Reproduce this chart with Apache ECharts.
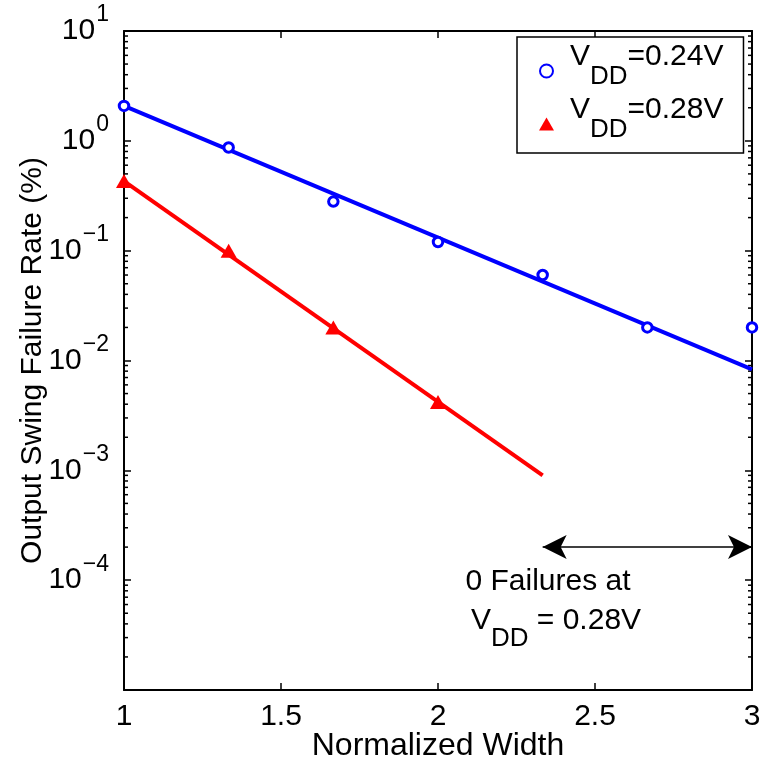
<!DOCTYPE html>
<html><head><meta charset="utf-8">
<script src="https://cdn.jsdelivr.net/npm/echarts@6/dist/echarts.min.js"></script>
<style>html,body{margin:0;padding:0;background:#fff}#c{width:765px;height:761px}</style>
</head><body><div id="c"></div>
<script>
// ---- data ----
const xPoints = [1, 1.3333, 1.6667, 2, 2.3333, 2.6667, 3];
const blueValues = [2.08, 0.87, 0.28, 0.12, 0.06, 0.02, 0.02];
const redX = [1, 1.3333, 1.6667, 2];
const redValues = [0.43, 0.10, 0.02, 0.0042];
const blueFitX = [1, 3];
const blueFitValues = [2.08, 0.0083];
const redFitX = [1, 2.3333];
const redFitValues = [0.43, 0.0009];
const xTicks = [1, 1.5, 2, 2.5, 3];
const yDecades = [-5, -4, -3, -2, -1, 0, 1];
const arrowX = [2.3333, 3];
const arrowY = 2e-4;
const seriesNames = ['V_DD=0.24V', 'V_DD=0.28V'];
const annotationLine1 = '0 Failures at';
const annotationLine2 = ['V', 'DD', ' = 0.28V'];
const xName = 'Normalized Width';
const yName = 'Output Swing Failure Rate (%)';

const FONT = "'Liberation Sans', Arial, Helvetica, sans-serif";
const xMin = xTicks[0], xMax = xTicks[xTicks.length - 1];
const yMin = yDecades[0], yMax = yDecades[yDecades.length - 1];
// minor tick positions of the log axis (2..9 in each decade)
const minorTickValues = [];
for (let d = yMin; d < yMax; d++)
  for (let k = 2; k <= 9; k++) minorTickValues.push(k * Math.pow(10, d));

const zip = (a, b) => a.map((v, i) => [v, b[i]]);
const chart = echarts.init(document.getElementById('c'));

const axisLineStyle = { show: true, onZero: false, lineStyle: { color: '#000', width: 2 } };
const tickMajor = { show: true, inside: true, length: 7, lineStyle: { color: '#000', width: 1.5 } };

const yLabelRich = {
  b: { fontSize: 30, fontFamily: FONT, color: '#000', lineHeight: 32 },
  e: { fontSize: 23, fontFamily: FONT, color: '#000', lineHeight: 24, padding: [0, 0, 32, 1] }
};
const legendRich = {
  v: { fontSize: 30, fontFamily: FONT, color: '#000', lineHeight: 30, padding: [0, 0, 28, 0] },
  a: { fontSize: 30, fontFamily: FONT, color: '#000', lineHeight: 30, padding: [0, 0, 28, 11] },
  s: { fontSize: 26, fontFamily: FONT, color: '#000', lineHeight: 26, padding: [12, 0, 0, 0] }
};

const option = {
  animation: false,
  backgroundColor: '#fff',
  grid: { left: 124, right: 13, top: 31, bottom: 71, containLabel: false, outerBoundsMode: 'none' },
  xAxis: [
    { type: 'value', position: 'bottom', min: xMin, max: xMax, interval: 0.5,
      axisLine: axisLineStyle, axisTick: tickMajor, splitLine: { show: false },
      axisLabel: { show: true, margin: 12, fontSize: 30, fontFamily: FONT, color: '#000',
        formatter: v => String(v) },
      name: xName, nameLocation: 'middle', nameGap: 40, nameMoveOverlap: false,
      nameTextStyle: { fontSize: 32, fontFamily: FONT, color: '#000' } },
    { type: 'value', position: 'top', min: xMin, max: xMax, interval: 0.5,
      axisLine: axisLineStyle, axisTick: tickMajor, axisLabel: { show: false }, splitLine: { show: false } }
  ],
  yAxis: [
    { type: 'log', logBase: 10, min: Math.pow(10, yMin), max: Math.pow(10, yMax), show: false },
    { type: 'value', position: 'left', min: yMin, max: yMax, interval: 1,
      axisLine: axisLineStyle, axisTick: tickMajor, splitLine: { show: false },
      axisLabel: { show: true, margin: 15, rich: yLabelRich,
        formatter: v => v === yMin ? '' : '{b|10}{e|' + (v < 0 ? '\u2212' + (-v) : v) + '}' },
      name: yName, nameLocation: 'middle', nameGap: 76, nameRotate: 90, nameMoveOverlap: false,
      nameTextStyle: { fontSize: 30, fontFamily: FONT, color: '#000' } },
    { type: 'value', position: 'right', min: yMin, max: yMax, interval: 1,
      axisLine: axisLineStyle, axisTick: tickMajor, axisLabel: { show: false }, splitLine: { show: false } }
  ],
  legend: {
    show: true, orient: 'vertical', left: 517, top: 37,
    padding: [5, 20, 0, 22], itemWidth: 15, itemHeight: 13, itemGap: -5,
    borderColor: '#000', borderWidth: 1.5, backgroundColor: '#fff',
    selectedMode: false, data: seriesNames,
    formatter: name => { const p = name.split('='); return '{a|V}{s|DD}{v|=' + p[1] + '}'; },
    textStyle: { rich: legendRich }
  },
  graphic: [
    { type: 'text', x: 548, y: 582, silent: true,
      style: { text: annotationLine1, font: '30px ' + FONT, fill: '#000', align: 'center', verticalAlign: 'middle' } },
    { type: 'text', x: 556, y: 630, silent: true,
      style: { text: '{v|' + annotationLine2[0] + '}{s|' + annotationLine2[1] + '}{v|' + annotationLine2[2] + '}',
        rich: {
          v: { fontSize: 30, fontFamily: FONT, fill: '#000', lineHeight: 30, padding: [0, 0, 18, 0] },
          s: { fontSize: 26, fontFamily: FONT, fill: '#000', lineHeight: 26, padding: [18, 0, 0, 0] }
        },
        align: 'center', verticalAlign: 'middle' } }
  ],
  series: [
    { type: 'custom', name: 'minorTicks', xAxisIndex: 0, yAxisIndex: 0, silent: true, z: 1,
      data: minorTickValues.map(v => [xMin, v]),
      renderItem: (params, api) => {
        const yv = api.value(1);
        const pl = api.coord([xMin, yv]);
        const pr = api.coord([xMax, yv]);
        const st = { stroke: '#000', lineWidth: 1.5 };
        return { type: 'group', children: [
          { type: 'line', shape: { x1: pl[0], y1: pl[1], x2: pl[0] + 4, y2: pl[1] }, style: st },
          { type: 'line', shape: { x1: pr[0] - 4, y1: pr[1], x2: pr[0], y2: pr[1] }, style: st }
        ] };
      } },
    { type: 'line', name: 'fit024', xAxisIndex: 0, yAxisIndex: 0, data: zip(blueFitX, blueFitValues),
      showSymbol: false, symbol: 'none', lineStyle: { color: '#0000ff', width: 4 }, z: 2, silent: true },
    { type: 'line', name: 'fit028', xAxisIndex: 0, yAxisIndex: 0, data: zip(redFitX, redFitValues),
      showSymbol: false, symbol: 'none', lineStyle: { color: '#ff0000', width: 4 }, z: 2, silent: true,
      markLine: { silent: true, symbol: ['arrow', 'arrow'], symbolSize: [18, 24],
        lineStyle: { color: '#000', width: 1.5, type: 'solid' }, label: { show: false },
        data: [[{ coord: [arrowX[0], arrowY] }, { coord: [arrowX[1], arrowY] }]] } },
    { type: 'scatter', name: seriesNames[0], xAxisIndex: 0, yAxisIndex: 0, data: zip(xPoints, blueValues),
      symbol: 'circle', symbolSize: 9.5, itemStyle: { color: '#fff', borderColor: '#0000ff', borderWidth: 3, opacity: 1 }, z: 4 },
    { type: 'scatter', name: seriesNames[1], xAxisIndex: 0, yAxisIndex: 0, data: zip(redX, redValues),
      symbol: 'triangle', symbolSize: [16, 14], itemStyle: { color: '#ff0000', opacity: 1 }, z: 4 }
  ]
};
chart.setOption(option);
</script></body></html>
